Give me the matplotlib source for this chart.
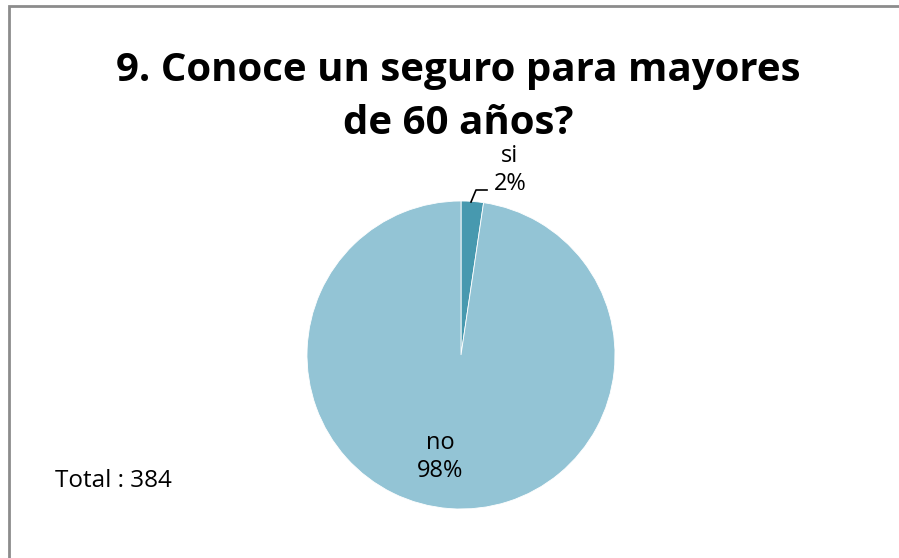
import matplotlib.pyplot as plt
from matplotlib.patches import Rectangle

categories = ["si", "no"]
counts = [9, 375]
colors = ["#4799AF", "#93C4D5"]
title = "9. Conoce un seguro para mayores\nde 60 años?"
total_text = "Total : 384"

W, H = 899, 558
fig = plt.figure(figsize=(W / 100, H / 100), dpi=100)
fig.patch.set_facecolor("white")

# outer chart border (only left/top visible, rest runs off the edge)
fig.patches.append(Rectangle((9 / W, -0.1), 1.2, (H - 6) / H + 0.1,
                             transform=fig.transFigure, fill=False,
                             edgecolor="#8c8c8c", linewidth=2))

font = "Open Sans"

fig.text(458 / W, 1 - 97 / H, title, ha="center", va="center",
         fontsize=29, fontweight="bold", family=font, linespacing=1.45)

# pie axes: center (461, 355), radius 154 px
cx, cy, r = 461, 355, 154
ax = fig.add_axes([(cx - r) / W, (H - cy - r) / H, 2 * r / W, 2 * r / H])

total = sum(counts)
ax.pie(counts, colors=colors, startangle=90, counterclock=False, radius=1,
       wedgeprops=dict(edgecolor="white", linewidth=0.6))
ax.set_xlim(-1, 1)
ax.set_ylim(-1, 1)
ax.axis("off")

pct = [round(100 * c / total) for c in counts]
label_kw = dict(ha="center", va="center", fontsize=17, family=font,
                linespacing=1.25)

# "si" label outside with leader line
ax.text((510 - cx) / r, (cy - 170) / r, f"{categories[0]}\n{pct[0]}%",
        clip_on=False, **label_kw)
ax.plot([(471 - cx) / r, (476 - cx) / r, (487 - cx) / r],
        [(cy - 202) / r, (cy - 190) / r, (cy - 190) / r],
        color="black", linewidth=1.2, clip_on=False)

# "no" label inside the slice
ax.text((440 - cx) / r, (cy - 457) / r, f"{categories[1]}\n{pct[1]}%",
        **label_kw)

fig.text(55 / W, 1 - 481 / H, total_text, ha="left", va="center",
         fontsize=17.5, family=font)

fig.savefig("out.png", dpi=100)
